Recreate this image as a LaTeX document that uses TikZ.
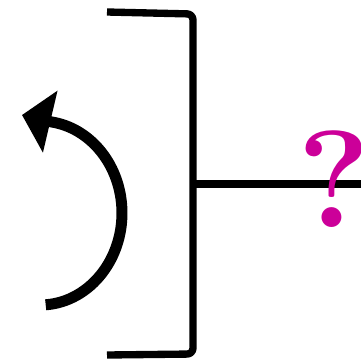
\documentclass[tikz,border=0pt]{standalone}
\usetikzlibrary{arrows.meta}
\definecolor{qmagenta}{RGB}{204,0,153}
\begin{document}
\begin{tikzpicture}[x=0.03cm, y=-0.03cm,
        bracket/.style={line width=0.22cm, line join=round},
        turnarrow/.style={line width=0.33cm, -{Triangle[length=0.87cm, width=1.86cm]}},
        qmark/.style={text=qmagenta, font=\fontsize{118}{118}\selectfont\bfseries, inner sep=0pt, anchor=base}]
        \useasboundingbox (0,0) rectangle (361,360);

        % Crochet (droite)
        \coordinate (topleft) at (107,12);
        \coordinate (topright) at (193,14);
        \coordinate (botright) at (193,354);
        \coordinate (botleft) at (107,355);
        \draw [bracket, rounded corners=5pt] (topleft) -- (topright) -- (botright) -- (botleft);

        % Tige horizontale
        \coordinate (stem) at (193,184);
        \coordinate (stemend) at (361,184);
        \draw [bracket] (stem) -- (stemend);

        % Point d'interrogation
        \node [qmark] (question) at (334,227) {?};

        % Fleche courbe (gauche)
        \coordinate (turnstart) at (45.7,304.8);
        \coordinate (turntip) at (22,115);
        \draw [turnarrow] (turnstart) arc [start angle=86, end angle=-82, x radius=82, y radius=92] -- (turntip);
    \end{tikzpicture}
\end{document}
